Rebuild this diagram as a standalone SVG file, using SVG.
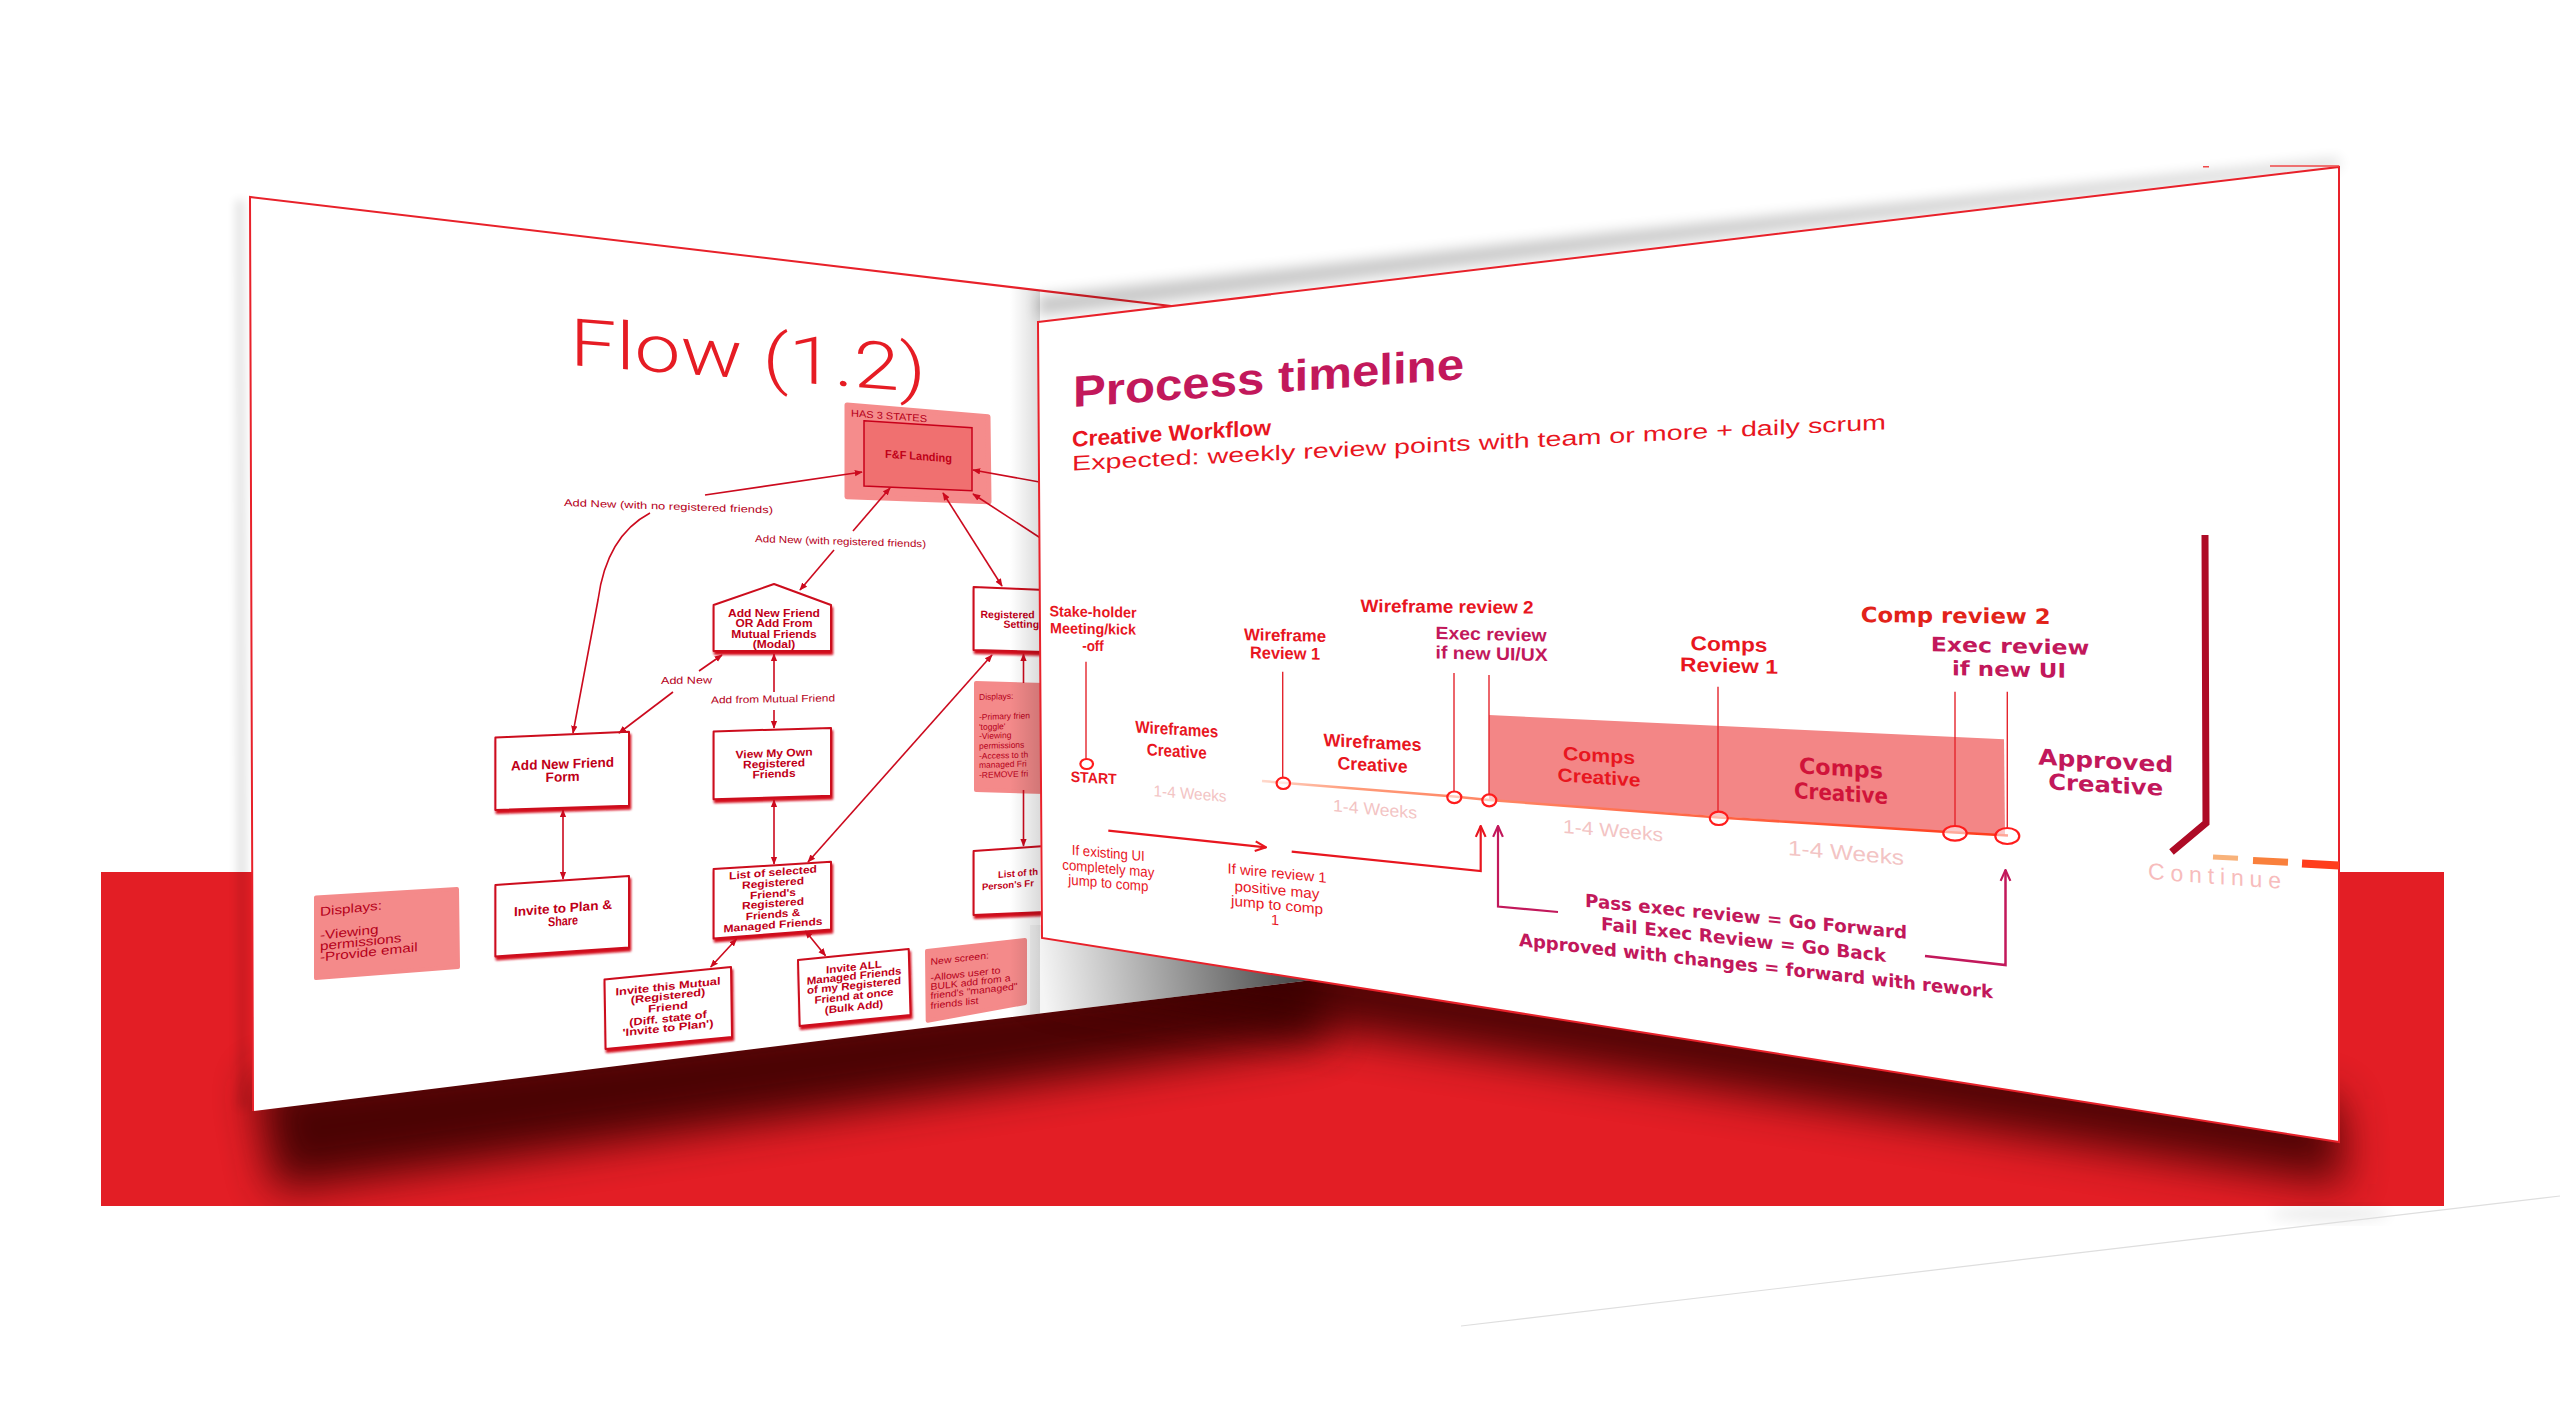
<svg xmlns="http://www.w3.org/2000/svg" width="2560" height="1403" viewBox="0 0 2560 1403">
<defs>
<style>
.fc-box{fill:#fff;stroke:#cc0a1c;stroke-width:2;stroke-linejoin:round}
.fc-pink{fill:#f48a8a;stroke:#f48a8a;stroke-width:4;stroke-linejoin:round}
.fc-t{font-family:'Liberation Sans',Arial,sans-serif;font-weight:700;fill:#bf0018}
.fc-n{font-family:'Liberation Sans',Arial,sans-serif;fill:#b5001a}
.fc-c{fill:none;stroke:#cc0a1e;stroke-width:1.6}
.tb{font-family:'Liberation Sans',Arial,sans-serif;font-weight:700}
.tr{font-family:'Liberation Sans',Arial,sans-serif}
.tw{font-family:'DejaVu Sans','Liberation Sans',sans-serif;font-weight:700}
.red{fill:#e8161f}
.crim{fill:#c2185b}
.wk{font-family:'Liberation Sans',Arial,sans-serif;fill:#f3c4c4}
.vl{stroke:#e4252d;stroke-width:1.4;fill:none}
.mk{fill:#fff;fill-opacity:.55;stroke:#ff1c1c;stroke-width:2.2}
</style>
<filter id="b22" x="-10%" y="-60%" width="120%" height="220%"><feGaussianBlur stdDeviation="22"/></filter>
<filter id="b7" x="-5%" y="-30%" width="110%" height="160%"><feGaussianBlur stdDeviation="7"/></filter>
<filter id="b5" x="-300%" y="-5%" width="700%" height="110%"><feGaussianBlur stdDeviation="5"/></filter>
<filter id="boxsh" x="-20%" y="-20%" width="140%" height="150%"><feDropShadow dx="1.2" dy="3" stdDeviation="0.9" flood-color="#d40a1e" flood-opacity="1"/></filter>
<clipPath id="redClip"><rect x="101" y="872" width="2343" height="334"/></clipPath>
<clipPath id="leftClip"><polygon points="250,197 1320,324 1320,979 253,1111"/></clipPath>
<linearGradient id="tlg" gradientUnits="userSpaceOnUse" x1="1262" y1="0" x2="2010" y2="0"><stop offset="0" stop-color="#ffd9cc"/><stop offset="0.12" stop-color="#ff9a78"/><stop offset="1" stop-color="#ff3a1a"/></linearGradient>
<linearGradient id="greyTri" gradientUnits="userSpaceOnUse" x1="1045" y1="1005" x2="1300" y2="972"><stop offset="0" stop-color="#000" stop-opacity="0.04"/><stop offset="1" stop-color="#000" stop-opacity="0.72"/></linearGradient>
<linearGradient id="band" gradientUnits="userSpaceOnUse" x1="1010" y1="0" x2="1040" y2="0"><stop offset="0" stop-color="#000" stop-opacity="0"/><stop offset="1" stop-color="#000" stop-opacity="0.14"/></linearGradient>
<marker id="ah" viewBox="0 0 10 10" refX="9" refY="5" markerWidth="8" markerHeight="8" markerUnits="userSpaceOnUse" orient="auto-start-reverse"><path d="M0,1 L10,5 L0,9 z" fill="#cc0a1e"/></marker>
<marker id="chR" viewBox="0 0 12 12" refX="11" refY="6" markerWidth="13" markerHeight="13" markerUnits="userSpaceOnUse" orient="auto"><path d="M1,1.5 L11,6 L1,10.5" fill="none" stroke="#e8161f" stroke-width="2"/></marker>
<marker id="chC" viewBox="0 0 12 12" refX="11" refY="6" markerWidth="13" markerHeight="13" markerUnits="userSpaceOnUse" orient="auto"><path d="M1,1.5 L11,6 L1,10.5" fill="none" stroke="#c2185b" stroke-width="2"/></marker>
</defs>

<rect x="0" y="0" width="2560" height="1403" fill="#fff"/>

<!-- red stage -->
<rect x="101" y="872" width="2343" height="334" fill="#e31e25"/>
<g clip-path="url(#redClip)">
  <polygon points="255,1080 1320,950 1330,1040 275,1190" fill="#3a0406" opacity="0.9" filter="url(#b22)"/>
  <polygon points="1040,900 2339,1100 2345,1185 1040,985" fill="#3a0406" opacity="0.85" filter="url(#b22)"/>
</g>
<ellipse cx="2330" cy="1214" rx="60" ry="7" fill="#000" opacity="0.08" filter="url(#b7)"/>
<path d="M2560,1196 Q2100,1250 1461,1326" fill="none" stroke="#dedede" stroke-width="1.2"/>

<!-- left panel -->
<g id="panel-flow">
  <polygon points="244,200 247,1108 238,1108 236,200" fill="#000" opacity="0.12" filter="url(#b5)"/>
  <polygon points="250,197 1320,324 1320,979 253,1111" fill="#fff"/>
  <path d="M1320,323.6 L250,197 L253,1111" fill="none" stroke="#e8212a" stroke-width="2"/>
  <text class="tr" transform="translate(570,365) skewY(4.4)" font-size="66" font-weight="300" style="font-family:Roboto,'Liberation Sans',sans-serif" fill="#e61c24" textLength="356" lengthAdjust="spacingAndGlyphs">Flow (1.2)</text>
</g>

<g id="node-ff-landing">
  <polygon points="847,405 988,416.7 989,501.7 847,496.7" fill="#f58c8c" stroke="#f58c8c" stroke-width="5" stroke-linejoin="round"/>
  <text class="fc-n" transform="translate(851,416.5) skewY(4.3)" font-size="10" fill="#c8102e" textLength="76" lengthAdjust="spacingAndGlyphs">HAS 3 STATES</text>
  <polygon points="864,420.7 972,427.7 972,490.7 864,486" fill="#f07070" stroke="#c8001a" stroke-width="1.5"/>
  <text class="fc-t" transform="translate(918.5,460) skewY(4)" font-size="11.5" text-anchor="middle" textLength="67" lengthAdjust="spacingAndGlyphs">F&amp;F Landing</text>
</g>

<g id="node-modal">
  <polygon class="fc-box" filter="url(#boxsh)" points="774,584 831,605 831,651 713.6,651 713.6,605"/>
  <g transform="translate(774,616.5)" font-size="10.5" text-anchor="middle">
    <text class="fc-t" y="0" textLength="92" lengthAdjust="spacingAndGlyphs">Add New Friend</text>
    <text class="fc-t" y="10.5" textLength="77" lengthAdjust="spacingAndGlyphs">OR Add From</text>
    <text class="fc-t" y="21" textLength="85.5" lengthAdjust="spacingAndGlyphs">Mutual Friends</text>
    <text class="fc-t" y="31.5" textLength="42.5" lengthAdjust="spacingAndGlyphs">(Modal)</text>
  </g>
</g>

<g id="node-add-form">
  <polygon class="fc-box" filter="url(#boxsh)" points="495.4,737.5 629,731.8 629,805.7 495.4,810"/>
  <g transform="translate(562.6,768.5) skewY(-2.1)" font-size="13.5" text-anchor="middle">
    <text class="fc-t" y="0" textLength="103" lengthAdjust="spacingAndGlyphs">Add New Friend</text>
    <text class="fc-t" y="13" textLength="34" lengthAdjust="spacingAndGlyphs">Form</text>
  </g>
</g>

<g id="node-invite-plan">
  <polygon class="fc-box" filter="url(#boxsh)" points="495.4,885 629,876 629,947.5 495.4,956.4"/>
  <g transform="translate(563,912.5) skewY(-4.3)" font-size="13" text-anchor="middle">
    <text class="fc-t" y="0" textLength="98" lengthAdjust="spacingAndGlyphs">Invite to Plan &amp;</text>
    <text class="fc-t" y="13" textLength="30" lengthAdjust="spacingAndGlyphs">Share</text>
  </g>
</g>

<g id="node-view-own">
  <polygon class="fc-box" filter="url(#boxsh)" points="713.6,731.4 831,727.9 831,795.7 713.6,799.3"/>
  <g transform="translate(774,757) skewY(-2.2)" font-size="11" text-anchor="middle">
    <text class="fc-t" y="0" textLength="77" lengthAdjust="spacingAndGlyphs">View My Own</text>
    <text class="fc-t" y="10.3" textLength="62" lengthAdjust="spacingAndGlyphs">Registered</text>
    <text class="fc-t" y="20.6" textLength="43" lengthAdjust="spacingAndGlyphs">Friends</text>
  </g>
</g>

<g id="node-list-selected">
  <polygon class="fc-box" filter="url(#boxsh)" points="713.6,869 831,861.8 831,929.6 713.6,938.6"/>
  <g transform="translate(773,876) skewY(-4.5)" font-size="10.5" text-anchor="middle">
    <text class="fc-t" y="0" textLength="88" lengthAdjust="spacingAndGlyphs">List of selected</text>
    <text class="fc-t" y="10.5" textLength="62" lengthAdjust="spacingAndGlyphs">Registered</text>
    <text class="fc-t" y="21.5" textLength="46" lengthAdjust="spacingAndGlyphs">Friend's</text>
    <text class="fc-t" y="31" textLength="62" lengthAdjust="spacingAndGlyphs">Registered</text>
    <text class="fc-t" y="42" textLength="54.5" lengthAdjust="spacingAndGlyphs">Friends &amp;</text>
    <text class="fc-t" y="52.5" textLength="99" lengthAdjust="spacingAndGlyphs">Managed Friends</text>
  </g>
</g>

<g id="node-invite-mutual">
  <polygon class="fc-box" filter="url(#boxsh)" points="604.5,979.6 731,967 732,1037 605.6,1049"/>
  <g transform="translate(668,990) skewY(-6)" font-size="10.5" text-anchor="middle">
    <text class="fc-t" y="0" textLength="105" lengthAdjust="spacingAndGlyphs">Invite this Mutual</text>
    <text class="fc-t" y="9.5" textLength="74.6" lengthAdjust="spacingAndGlyphs">(Registered)</text>
    <text class="fc-t" y="20.5" textLength="40" lengthAdjust="spacingAndGlyphs">Friend</text>
    <text class="fc-t" y="32" textLength="77.5" lengthAdjust="spacingAndGlyphs">(Diff. state of</text>
    <text class="fc-t" y="41.5" textLength="91" lengthAdjust="spacingAndGlyphs">'Invite to Plan')</text>
  </g>
</g>

<g id="node-invite-all">
  <polygon class="fc-box" filter="url(#boxsh)" points="798,960 908.7,949 910.5,1015 799.7,1026"/>
  <g transform="translate(854,970.5) skewY(-6.2)" font-size="10.5" text-anchor="middle">
    <text class="fc-t" y="0" textLength="56" lengthAdjust="spacingAndGlyphs">Invite ALL</text>
    <text class="fc-t" y="9" textLength="94.7" lengthAdjust="spacingAndGlyphs">Managed Friends</text>
    <text class="fc-t" y="18.5" textLength="94" lengthAdjust="spacingAndGlyphs">of my Registered</text>
    <text class="fc-t" y="29" textLength="79" lengthAdjust="spacingAndGlyphs">Friend at once</text>
    <text class="fc-t" y="40" textLength="58.5" lengthAdjust="spacingAndGlyphs">(Bulk Add)</text>
  </g>
</g>

<g id="note-displays-left">
  <polygon class="fc-pink" points="316,897.5 457,889 458,967 316,978"/>
  <g transform="translate(320,916) skewY(-6)" font-size="12.5">
    <text class="fc-n" y="0" textLength="62" lengthAdjust="spacingAndGlyphs">Displays:</text>
    <text class="fc-n" y="23.5" textLength="58.5" lengthAdjust="spacingAndGlyphs">-Viewing</text>
    <text class="fc-n" y="34.5" textLength="81.5" lengthAdjust="spacingAndGlyphs">permissions</text>
    <text class="fc-n" y="45.5" textLength="97.6" lengthAdjust="spacingAndGlyphs">-Provide email</text>
  </g>
</g>

<g id="note-new-screen">
  <polygon class="fc-pink" points="927,951 1025,940 1025,1003 927.7,1020.7"/>
  <g transform="translate(930.5,965) skewY(-6.3)" font-size="9.5">
    <text class="fc-n" y="0" textLength="58.5" lengthAdjust="spacingAndGlyphs">New screen:</text>
    <text class="fc-n" y="16" textLength="70" lengthAdjust="spacingAndGlyphs">-Allows user to</text>
    <text class="fc-n" y="25" textLength="80" lengthAdjust="spacingAndGlyphs">BULK add from a</text>
    <text class="fc-n" y="34" textLength="87" lengthAdjust="spacingAndGlyphs">friend's "managed"</text>
    <text class="fc-n" y="44" textLength="48" lengthAdjust="spacingAndGlyphs">friends list</text>
  </g>
</g>

<g id="node-registered-settings">
  <polygon class="fc-box" filter="url(#boxsh)" points="973.6,587 1045,590 1045,652 973.6,650"/>
  <g transform="translate(980.5,618) skewY(0.4)" font-size="10.5">
    <text class="fc-t" y="0">Registered</text>
    <text class="fc-t" x="23" y="9.5">Setting</text>
  </g>
</g>

<g id="note-displays-right">
  <polygon class="fc-pink" points="976,683 1045,685 1045,792 976,790"/>
  <g transform="translate(979,700) skewY(-1.8)" font-size="8.5">
    <text class="fc-n" y="0">Displays:</text>
    <text class="fc-n" y="20">-Primary frien</text>
    <text class="fc-n" y="30">'toggle'</text>
    <text class="fc-n" y="39">-Viewing</text>
    <text class="fc-n" y="49">permissions</text>
    <text class="fc-n" y="59">-Access to th</text>
    <text class="fc-n" y="68">managed Fri</text>
    <text class="fc-n" y="78">-REMOVE fri</text>
  </g>
</g>

<g id="node-list-person">
  <polygon class="fc-box" filter="url(#boxsh)" points="973.6,851 1045,846 1045,912 973.6,915"/>
  <g transform="translate(998,878) skewY(-4.5)" font-size="9.5">
    <text class="fc-t" y="0">List of th</text>
    <text class="fc-t" x="-16" y="11">Person's Fr</text>
  </g>
</g>

<g id="flow-connectors">
  <path class="fc-c" d="M650,513 C618,530 603,562 598,600 L573,733" marker-end="url(#ah)"/>
  <path class="fc-c" d="M705,495 L862,472" marker-end="url(#ah)"/>
  <path class="fc-c" d="M853,531 L890,488" marker-end="url(#ah)"/>
  <path class="fc-c" d="M834,550 L800,590" marker-end="url(#ah)"/>
  <path class="fc-c" d="M943,493 L1002,586" marker-start="url(#ah)" marker-end="url(#ah)"/>
  <path class="fc-c" d="M1045,483 L973,470" marker-end="url(#ah)"/>
  <path class="fc-c" d="M1045,541 L973,494" marker-end="url(#ah)"/>
  <path class="fc-c" d="M699,671 L722,655" marker-end="url(#ah)"/>
  <path class="fc-c" d="M673,692 L619,733" marker-end="url(#ah)"/>
  <path class="fc-c" d="M774,692 L774,654" marker-end="url(#ah)"/>
  <path class="fc-c" d="M774,710 L774,728" marker-end="url(#ah)"/>
  <path class="fc-c" d="M774,800 L774,864" marker-start="url(#ah)" marker-end="url(#ah)"/>
  <path class="fc-c" d="M563,810 L563,879" marker-start="url(#ah)" marker-end="url(#ah)"/>
  <path class="fc-c" d="M808,862 L992,655" marker-start="url(#ah)" marker-end="url(#ah)"/>
  <path class="fc-c" d="M736.5,939 L710.7,967" marker-start="url(#ah)" marker-end="url(#ah)"/>
  <path class="fc-c" d="M805.4,931 L825.5,955.7" marker-start="url(#ah)" marker-end="url(#ah)"/>
  <path class="fc-c" d="M1023.5,683 L1023.5,654" marker-end="url(#ah)"/>
  <path class="fc-c" d="M1023.5,790 L1023.5,846" marker-end="url(#ah)"/>
  <text class="fc-n" transform="translate(564,506) skewY(2)" font-size="10" fill="#c00018" textLength="209" lengthAdjust="spacingAndGlyphs">Add New (with no registered friends)</text>
  <text class="fc-n" transform="translate(755,542) skewY(1.8)" font-size="10" textLength="171" lengthAdjust="spacingAndGlyphs">Add New (with registered friends)</text>
  <text class="fc-n" transform="translate(661,684) skewY(-0.7)" font-size="10" textLength="51" lengthAdjust="spacingAndGlyphs">Add New</text>
  <text class="fc-n" transform="translate(711,703.5) skewY(-1)" font-size="10" textLength="124" lengthAdjust="spacingAndGlyphs">Add from Mutual Friend</text>
</g>

<!-- shading on the flow panel cast by the timeline panel -->
<g clip-path="url(#leftClip)">
  <rect x="1008" y="190" width="32" height="840" fill="url(#band)"/>
  <rect x="1030" y="925" width="300" height="100" fill="url(#greyTri)"/>
</g>

<!-- right panel -->
<polygon points="1038,316 1600,250 2339,166 2339,160 1600,234 1038,296" fill="#000" opacity="0.22" filter="url(#b7)"/>
<g id="panel-timeline">
  <polygon points="1038,322 2339,167 2339,1142 1042,938" fill="#fff" stroke="#e8212a" stroke-width="2"/>
  <path d="M2203,166.8 L2209,166.8 M2270,166 L2339,166" stroke="#f04848" stroke-width="1.5"/>
  <text class="tb crim" transform="translate(1073,407) skewY(-4.1)" font-size="44" textLength="391" lengthAdjust="spacingAndGlyphs">Process timeline</text>
  <text class="tb red" transform="translate(1072,446.7) skewY(-3.4)" font-size="22" textLength="199" lengthAdjust="spacingAndGlyphs">Creative Workflow</text>
  <text class="tr red" transform="translate(1072,470.5) skewY(-2.9)" font-size="21" textLength="814" lengthAdjust="spacingAndGlyphs">Expected: weekly review points with team or more + daily scrum</text>
</g>

<g id="comps-band">
  <polygon points="1489,715 2004,739.3 2005,836 1489,800.5" fill="#f38686"/>
</g>

<g id="timeline-line">
  <polyline points="1262,781 1454,796.5 1489,800 1719,817.5 1955,832.5 2008,835.5" fill="none" stroke="url(#tlg)" stroke-width="2.5"/>
  <line class="vl" x1="1086" y1="661.7" x2="1086" y2="759"/>
  <line class="vl" x1="1282.7" y1="671.7" x2="1282.7" y2="777.6"/>
  <line class="vl" x1="1454" y1="673" x2="1454" y2="791.5"/>
  <line class="vl" x1="1489" y1="675" x2="1489" y2="794.5"/>
  <line class="vl" x1="1718" y1="686.7" x2="1718" y2="811.5"/>
  <line class="vl" x1="1955" y1="691.7" x2="1955" y2="826"/>
  <line class="vl" x1="2007.3" y1="691.7" x2="2007.3" y2="828"/>
</g>

<g id="node-start">
  <ellipse class="mk" cx="1086.7" cy="764" rx="6.3" ry="5"/>
  <g transform="translate(1093,617) skewY(1)" font-size="15" text-anchor="middle">
    <text class="tb red" y="0" textLength="87" lengthAdjust="spacingAndGlyphs">Stake-holder</text>
    <text class="tb red" y="17" textLength="86" lengthAdjust="spacingAndGlyphs">Meeting/kick</text>
    <text class="tb red" y="34" textLength="21.6" lengthAdjust="spacingAndGlyphs">-off</text>
  </g>
  <text class="tb red" transform="translate(1093.7,783) skewY(3)" font-size="15" text-anchor="middle" textLength="46" lengthAdjust="spacingAndGlyphs">START</text>
</g>

<g id="phase-wireframes-1">
  <g transform="translate(1176.7,735) skewY(3.4)" font-size="17" text-anchor="middle">
    <text class="tb red" y="0" textLength="83" lengthAdjust="spacingAndGlyphs">Wireframes</text>
    <text class="tb red" y="22" textLength="60" lengthAdjust="spacingAndGlyphs">Creative</text>
  </g>
  <text class="wk" transform="translate(1190,799) skewY(4.5)" font-size="16" text-anchor="middle" textLength="73" lengthAdjust="spacingAndGlyphs">1-4 Weeks</text>
</g>

<g id="node-wireframe-review-1">
  <ellipse class="mk" cx="1283.3" cy="783.3" rx="6.7" ry="5.7"/>
  <g transform="translate(1285,641) skewY(1.2)" font-size="17" text-anchor="middle">
    <text class="tb red" y="0" textLength="82" lengthAdjust="spacingAndGlyphs">Wireframe</text>
    <text class="tb red" y="18" textLength="70" lengthAdjust="spacingAndGlyphs">Review 1</text>
  </g>
</g>

<g id="phase-wireframes-2">
  <g transform="translate(1372.5,748.5) skewY(3)" font-size="18" text-anchor="middle">
    <text class="tb red" y="0" textLength="98" lengthAdjust="spacingAndGlyphs">Wireframes</text>
    <text class="tb red" y="22.5" textLength="70" lengthAdjust="spacingAndGlyphs">Creative</text>
  </g>
  <text class="wk" transform="translate(1375,815) skewY(5)" font-size="17" text-anchor="middle" textLength="84" lengthAdjust="spacingAndGlyphs">1-4 Weeks</text>
</g>

<g id="node-wireframe-review-2">
  <ellipse class="mk" cx="1454.3" cy="797.3" rx="7" ry="5.8"/>
  <ellipse class="mk" cx="1489.3" cy="800.3" rx="7" ry="6"/>
  <text class="tb red" transform="translate(1360.6,612) skewY(0.5)" font-size="18" textLength="173" lengthAdjust="spacingAndGlyphs">Wireframe review 2</text>
  <g transform="translate(1435.6,639) skewY(1.3)" font-size="18">
    <text class="tb crim" y="0" textLength="111" lengthAdjust="spacingAndGlyphs">Exec review</text>
    <text class="tb crim" y="19.5" textLength="112" lengthAdjust="spacingAndGlyphs">if new UI/UX</text>
  </g>
</g>

<g id="phase-comps-1">
  <g transform="translate(1599,762) skewY(3.7)" font-size="19" text-anchor="middle">
    <text class="tb red" y="0" textLength="72" lengthAdjust="spacingAndGlyphs">Comps</text>
    <text class="tb red" y="22" textLength="83" lengthAdjust="spacingAndGlyphs">Creative</text>
  </g>
  <text class="wk" transform="translate(1613,837) skewY(5)" font-size="19" text-anchor="middle" textLength="100" lengthAdjust="spacingAndGlyphs">1-4 Weeks</text>
</g>

<g id="node-comps-review-1">
  <ellipse class="mk" cx="1718.8" cy="818.3" rx="9" ry="6.7"/>
  <g transform="translate(1729,651) skewY(1.4)" font-size="20" text-anchor="middle">
    <text class="tb red" y="0" textLength="77" lengthAdjust="spacingAndGlyphs">Comps</text>
    <text class="tb red" y="21.5" textLength="98" lengthAdjust="spacingAndGlyphs">Review 1</text>
  </g>
</g>

<g id="phase-comps-2">
  <g transform="translate(1841,776) skewY(3.7)" font-size="22" text-anchor="middle">
    <text class="tw" fill="#d0143a" y="0" textLength="84" lengthAdjust="spacingAndGlyphs">Comps</text>
    <text class="tw" fill="#d0143a" y="25" textLength="94" lengthAdjust="spacingAndGlyphs">Creative</text>
  </g>
  <text class="wk" transform="translate(1846,860) skewY(5)" font-size="21" text-anchor="middle" textLength="116" lengthAdjust="spacingAndGlyphs">1-4 Weeks</text>
</g>

<g id="node-comp-review-2">
  <ellipse class="mk" cx="1955" cy="833.3" rx="11.7" ry="7.3" stroke-width="2.8"/>
  <ellipse class="mk" cx="2007.3" cy="836" rx="12" ry="8" stroke-width="2.8"/>
  <text class="tw" fill="#e2231a" transform="translate(1860.7,622) skewY(0.6)" font-size="21" textLength="190" lengthAdjust="spacingAndGlyphs">Comp review 2</text>
  <g transform="translate(2010,653) skewY(1.35)" font-size="20" text-anchor="middle">
    <text class="tw crim" y="0" textLength="158.6" lengthAdjust="spacingAndGlyphs">Exec review</text>
    <text class="tw crim" x="-1" y="23.5" textLength="114" lengthAdjust="spacingAndGlyphs">if new UI</text>
  </g>
</g>

<g id="node-approved">
  <g transform="translate(2105.7,768.5) skewY(3.3)" font-size="22" text-anchor="middle">
    <text class="tw crim" y="0" textLength="135" lengthAdjust="spacingAndGlyphs">Approved</text>
    <text class="tw crim" y="24" textLength="115" lengthAdjust="spacingAndGlyphs">Creative</text>
  </g>
</g>

<g id="node-continue">
  <polyline points="2205,535 2206,823 2171.5,852" fill="none" stroke="#ae0b26" stroke-width="7"/>
  <line x1="2213" y1="857" x2="2238" y2="858.3" stroke="#f8b27a" stroke-width="5"/>
  <line x1="2253" y1="860.5" x2="2288" y2="862.2" stroke="#f9803c" stroke-width="7"/>
  <line x1="2302" y1="863.5" x2="2339" y2="865.5" stroke="#ff3d1c" stroke-width="8"/>
  <text class="tr" transform="translate(2148,879) skewY(4.2)" font-size="23" fill="#f7bcbc" textLength="133" lengthAdjust="spacing">Continue</text>
</g>

<g id="timeline-connectors">
  <path d="M1108.3,830.7 L1266,847.3" fill="none" stroke="#e8161f" stroke-width="2.2" marker-end="url(#chR)"/>
  <path d="M1291.7,851.7 L1480.7,871 L1480.7,826" fill="none" stroke="#e8161f" stroke-width="2.2" marker-end="url(#chR)"/>
  <path d="M1558,912 L1498,906.5 L1498,826" fill="none" stroke="#c2185b" stroke-width="2.2" marker-end="url(#chC)"/>
  <path d="M1925,956 L2005.5,965 L2005.5,870" fill="none" stroke="#c2185b" stroke-width="2.5" marker-end="url(#chC)"/>
</g>

<g id="note-existing-ui">
  <g transform="translate(1108.3,858) skewY(5)" font-size="14.5" text-anchor="middle">
    <text class="tr red" y="0" textLength="73" lengthAdjust="spacingAndGlyphs">If existing UI</text>
    <text class="tr red" y="15.5" textLength="92" lengthAdjust="spacingAndGlyphs">completely may</text>
    <text class="tr red" y="30" textLength="80" lengthAdjust="spacingAndGlyphs">jump to comp</text>
  </g>
</g>

<g id="note-wire-review">
  <g transform="translate(1277,878) skewY(5.5)" font-size="14.5" text-anchor="middle">
    <text class="tr red" y="0" textLength="99" lengthAdjust="spacingAndGlyphs">If wire review 1</text>
    <text class="tr red" y="17" textLength="85" lengthAdjust="spacingAndGlyphs">positive may</text>
    <text class="tr red" y="32" textLength="92" lengthAdjust="spacingAndGlyphs">jump to comp</text>
    <text class="tr red" x="-2" y="47">1</text>
  </g>
</g>

<g id="note-exec-rules">
  <text class="tw crim" transform="translate(1585,906.7) skewY(5.7)" font-size="18" textLength="322" lengthAdjust="spacingAndGlyphs">Pass exec review = Go Forward</text>
  <text class="tw crim" transform="translate(1601,930) skewY(6.4)" font-size="18" textLength="285" lengthAdjust="spacingAndGlyphs">Fail Exec Review = Go Back</text>
  <text class="tw crim" transform="translate(1519,946) skewY(6.3)" font-size="18" textLength="474" lengthAdjust="spacingAndGlyphs">Approved with changes = forward with rework</text>
</g>
</svg>
